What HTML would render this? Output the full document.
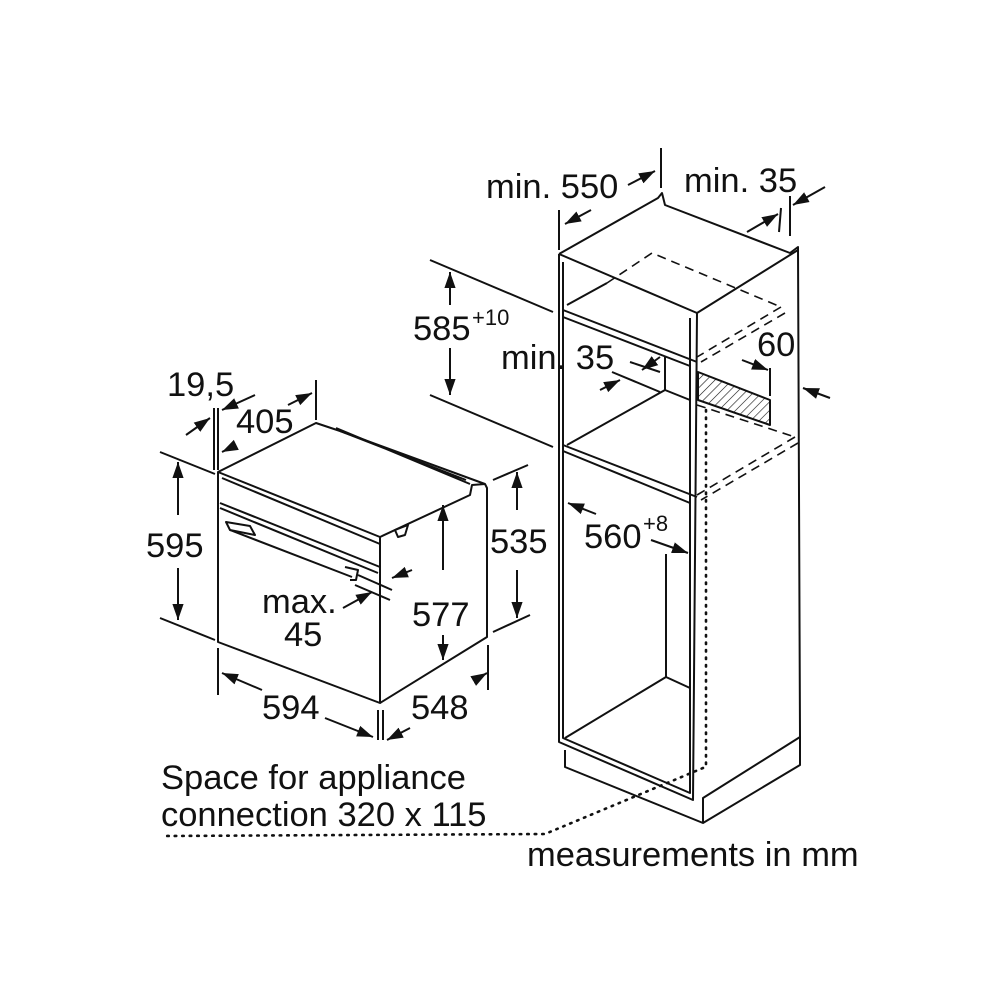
<!DOCTYPE html>
<html><head><style>
html,body{margin:0;padding:0;background:#fff;}
svg{display:block}
text{font-family:"Liberation Sans",sans-serif;fill:#111;}
</style></head><body>
<svg width="1000" height="1000" viewBox="0 0 1000 1000" xmlns="http://www.w3.org/2000/svg">
<defs>
<marker id="a" viewBox="0 0 10 10" refX="10" refY="5" markerWidth="8" markerHeight="8" orient="auto-start-reverse"><path d="M0,1.5 L10,5 L0,8.5z" fill="#111"/></marker>
<pattern id="h" width="6" height="6" patternUnits="userSpaceOnUse" patternTransform="rotate(45)"><line x1="0" y1="0" x2="0" y2="6" stroke="#111" stroke-width="1.2"/></pattern>
</defs>
<g stroke="#111" stroke-width="2" fill="none" stroke-linejoin="round">
<!-- CABINET -->
<path d="M559,254 L658,198 L662,193 L665,205 L790,253 L798,247 L800,737"/>
<path d="M559,254 L697,313 L798,250"/>
<path d="M559,254 L559,742 L693,800 L697,313"/>
<path d="M563,262 L563,738 L690,793 L690,318"/>
<path d="M563,310 L697,362 M563,317 L690,366"/>
<path d="M563,445 L697,497 M563,451 L690,503"/>
<path d="M567,305 L607,283"/>
<path d="M567,445 L665,390 L665,356 M665,390 L690,400"/>
<path d="M565,738 L666,677 L666,554 M666,677 L690,688"/>
<!-- plinth -->
<path d="M565,750 L565,767 L703,823 L800,765 L800,737 L703,798 L703,823"/>
<!-- hatched -->
<path d="M698,372 L770,400 L770,425 L698,400 Z" fill="url(#h)"/>
<!-- dashed -->
<g stroke-dasharray="9,6" stroke-width="1.6">
<path d="M607,283 L652,253 L781,307"/>
<path d="M781,307 L697,357 M785,313 L701,362"/>
<path d="M697,405 L795,437"/>
<path d="M795,437 L697,495 M798,443 L701,500"/>
</g>
<g stroke-dasharray="1.5,6" stroke-width="2.6" stroke-linecap="round">
<path d="M706,410 L706,765"/>
<path d="M703,768 L545,834 L162,836"/>
</g>
<!-- cabinet dims -->
<path d="M559,250 L559,210"/><path d="M661,188 L661,148"/>
<path d="M591,210 L565,224" marker-end="url(#a)"/>
<path d="M628,185 L655,171" marker-end="url(#a)"/>
<path d="M779,232 L781,208"/><path d="M790,236 L790,196"/>
<path d="M747,232 L778,214" marker-end="url(#a)"/>
<path d="M825,187 L793,205" marker-end="url(#a)"/>
<path d="M830,398 L803,388" marker-end="url(#a)"/>
<path d="M430,260 L553,312 M430,395 L553,447"/>
<path d="M450,305 L450,272" marker-end="url(#a)"/>
<path d="M450,348 L450,395" marker-end="url(#a)"/>
<path d="M630,362 L660,372 M612,372 L660,392 M665,356 L665,385"/>
<path d="M660,357 L642,370" marker-end="url(#a)"/>
<path d="M600,390 L620,380" marker-end="url(#a)"/>
<path d="M770,368 L770,396"/>
<path d="M742,360 L768,370" marker-end="url(#a)"/>
<path d="M596,514 L568,503" marker-end="url(#a)"/>
<path d="M651,540 L688,553" marker-end="url(#a)"/>
<!-- OVEN -->
<path d="M218,472 L316,423 L340,431 L485,484 L487,488 L487,637 L380,703 L218,642 Z"/>
<path d="M218,472 L380,537 L380,703"/>
<path d="M380,537 L470,495 L472,485 L485,484"/>
<path d="M222,478 L380,544"/>
<path d="M220,503 L380,567 M220,508 L378,573"/>
<path d="M340,431 L466,480 M336,428 L470,484"/>
<path d="M226,522 L250,526 L255,535 L230,530 Z"/>
<path d="M230,530 L352,577 M345,567 L358,570 L356,580 L350,580"/>
<path d="M395,530 L408,525 L405,535 L398,537 Z"/>
<!-- oven dims -->
<path d="M160,452 L215,474 M160,618 L215,640"/>
<path d="M178,515 L178,462" marker-end="url(#a)"/>
<path d="M178,568 L178,620" marker-end="url(#a)"/>
<path d="M218,648 L218,695"/><path d="M378,710 L378,740"/><path d="M383,710 L383,740"/>
<path d="M488,645 L488,690"/>
<path d="M262,690 L222,673" marker-end="url(#a)"/>
<path d="M325,718 L373,737" marker-end="url(#a)"/>
<path d="M475,680 L487,673" marker-end="url(#a)"/>
<path d="M410,728 L387,740" marker-end="url(#a)"/>
<path d="M214,408 L214,470 M218,408 L218,470"/>
<path d="M316,380 L316,420"/>
<path d="M186,435 L210,418" marker-end="url(#a)"/>
<path d="M255,395 L222,410" marker-end="url(#a)"/>
<path d="M236,445 L222,452" marker-end="url(#a)"/>
<path d="M288,405 L312,393" marker-end="url(#a)"/>
<path d="M493,480 L528,465 M493,632 L530,615"/>
<path d="M517,510 L517,472" marker-end="url(#a)"/>
<path d="M517,570 L517,618" marker-end="url(#a)"/>
<path d="M443,570 L443,505" marker-end="url(#a)"/>
<path d="M443,635 L443,660" marker-end="url(#a)"/>
<path d="M358,575 L392,590 M355,585 L390,600"/>
<path d="M412,570 L392,578" marker-end="url(#a)"/>
<path d="M343,608 L372,592" marker-end="url(#a)"/>
</g>
<g font-size="34.5">
<text x="486" y="198">min. 550</text>
<text x="684" y="192">min. 35</text>
<text x="413" y="340">585</text><text x="472" y="325" font-size="22">+10</text>
<text x="501" y="369">min. 35</text>
<text x="757" y="356">60</text>
<text x="167" y="396">19,5</text>
<text x="236" y="433">405</text>
<text x="146" y="557">595</text>
<text x="490" y="553">535</text>
<text x="584" y="548">560</text><text x="643" y="531" font-size="22">+8</text>
<text x="262" y="613">max.</text>
<text x="284" y="646">45</text>
<text x="412" y="626">577</text>
<text x="262" y="719">594</text>
<text x="411" y="719">548</text>
<text x="161" y="789">Space for appliance</text>
<text x="161" y="826">connection 320 x 115</text>
<text x="527" y="866">measurements in mm</text>
</g>
</svg>
</body></html>
